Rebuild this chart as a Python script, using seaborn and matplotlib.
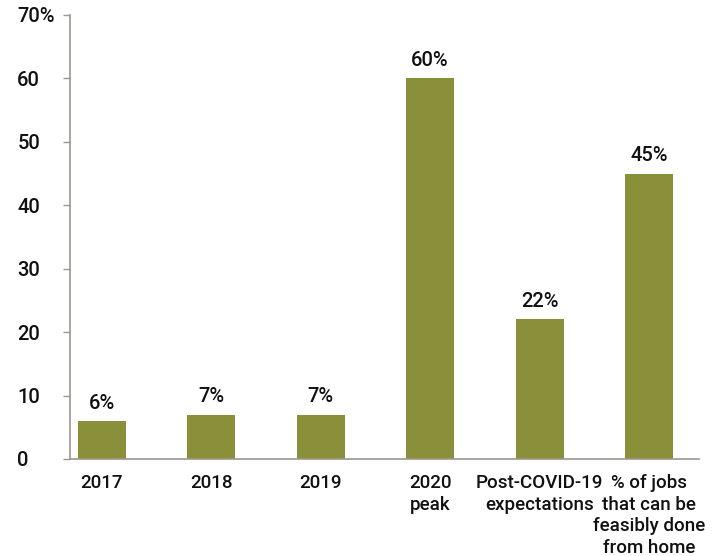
import matplotlib
matplotlib.use("Agg")
import matplotlib.pyplot as plt
import seaborn as sns
import pandas as pd

categories = ["2017", "2018", "2019", "2020\npeak", "Post-COVID-19\nexpectations",
              "% of jobs\nthat can be\nfeasibly done\nfrom home"]
shares = [6, 7, 7, 60, 22, 45]
y_ticks = [0, 10, 20, 30, 40, 50, 60, 70]
y_tick_labels = ["0", "10", "20", "30", "40", "50", "60", "70%"]

bar_color = "#8A8F3A"
spine_color = "#9E968F"
text_color = "#111111"

sns.set_theme(style="white")
plt.rcParams["font.family"] = ["Roboto", "DejaVu Sans"]
plt.rcParams["font.weight"] = "medium"

df = pd.DataFrame({"category": categories, "share": shares})

fig = plt.figure(figsize=(7.17, 5.56), dpi=100)
ax = fig.add_axes([70 / 717, 1 - 459 / 556, (699 - 70) / 717, (459 - 15) / 556])

sns.barplot(data=df, x="category", y="share", color=bar_color, saturation=1,
            width=0.44, linewidth=0, ax=ax)

for container in ax.containers:
    ax.bar_label(container, labels=[f"{v:.0f}%" for v in shares], padding=6,
                 fontsize=14.5, color=text_color)

ax.set_ylim(0, 70)
ax.set_xlim(-0.292, 5.457)
ax.set_yticks(y_ticks)
ax.set_yticklabels(y_tick_labels, ha="left")
ax.set_xlabel("")
ax.set_ylabel("")

sns.despine(ax=ax)
for side in ("left", "bottom"):
    ax.spines[side].set_color(spine_color)
    ax.spines[side].set_linewidth(1.2)

ax.tick_params(axis="y", which="major", left=True, length=5, width=1,
               color=spine_color, labelsize=14.5, labelcolor=text_color, pad=33)
ax.tick_params(axis="x", bottom=False, labelsize=13.5, labelcolor=text_color, pad=5)
for lbl in ax.get_xticklabels():
    lbl.set_linespacing(1.25)
    lbl.set_verticalalignment("top")

fig.savefig("out.png", dpi=100)
